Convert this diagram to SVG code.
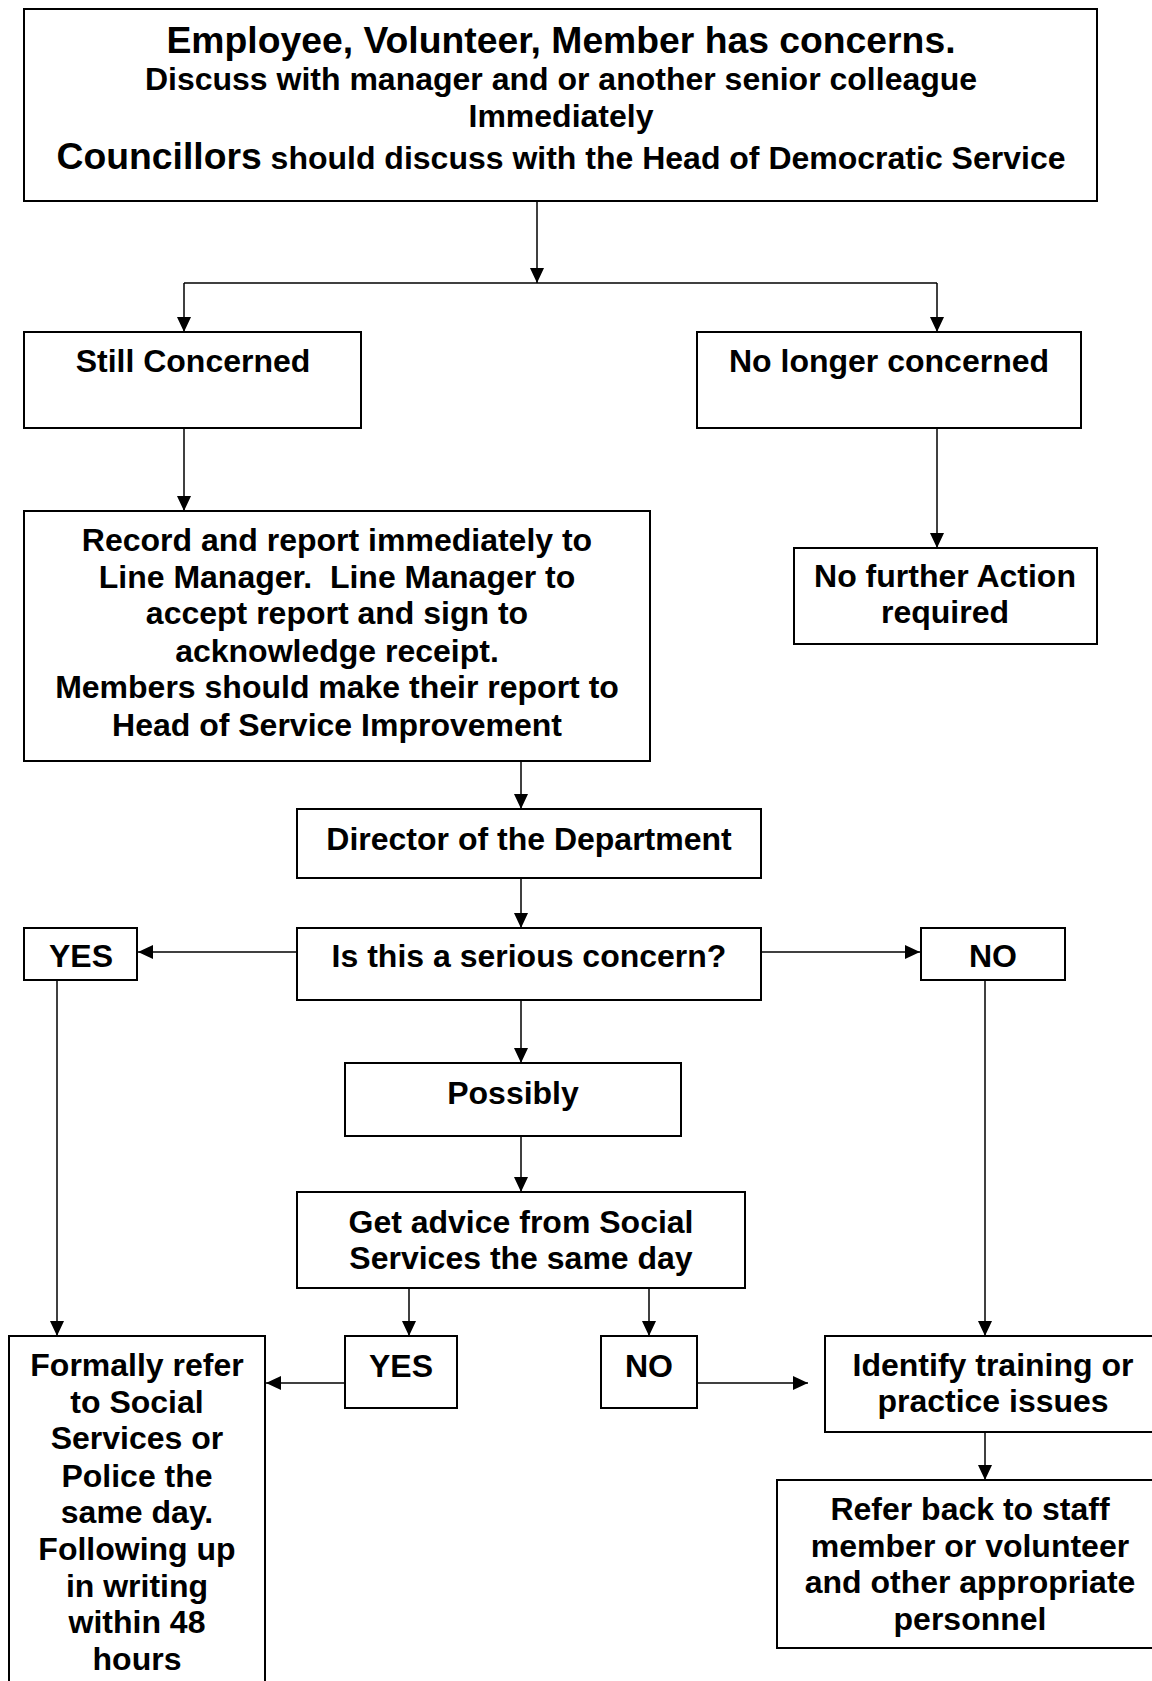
<svg xmlns="http://www.w3.org/2000/svg" width="1152" height="1681" viewBox="0 0 1152 1681">
<style>
.box{fill:#fff;stroke:#000;stroke-width:2}
.t{font-family:"Liberation Sans",Arial,sans-serif;font-weight:bold;font-size:32px;fill:#000;text-anchor:middle}
.big{font-size:37.3px}
.c{fill:none;stroke:#000;stroke-width:1.5}
</style>
<defs>
<marker id="arr" markerUnits="userSpaceOnUse" viewBox="0 0 15 14" refX="15" refY="7" markerWidth="15" markerHeight="14" orient="auto">
<path d="M0,0 L15,7 L0,14 z" fill="#000"/>
</marker>
</defs>
<rect width="1152" height="1681" fill="#fff"/>
<g id="connectors">
<path class="c" d="M537,201 V283" marker-end="url(#arr)"/>
<path class="c" d="M184,283 H937"/>
<path class="c" d="M184,283 V332" marker-end="url(#arr)"/>
<path class="c" d="M937,283 V332" marker-end="url(#arr)"/>
<path class="c" d="M184,428 V511" marker-end="url(#arr)"/>
<path class="c" d="M937,428 V548" marker-end="url(#arr)"/>
<path class="c" d="M521,761 V809" marker-end="url(#arr)"/>
<path class="c" d="M521,878 V928" marker-end="url(#arr)"/>
<path class="c" d="M297,952 H138" marker-end="url(#arr)"/>
<path class="c" d="M761,952 H920" marker-end="url(#arr)"/>
<path class="c" d="M521,1000 V1063" marker-end="url(#arr)"/>
<path class="c" d="M521,1136 V1192" marker-end="url(#arr)"/>
<path class="c" d="M409,1288 V1336" marker-end="url(#arr)"/>
<path class="c" d="M649,1288 V1336" marker-end="url(#arr)"/>
<path class="c" d="M57,980 V1336" marker-end="url(#arr)"/>
<path class="c" d="M985,980 V1336" marker-end="url(#arr)"/>
<path class="c" d="M345,1383 H266" marker-end="url(#arr)"/>
<path class="c" d="M697,1383 H808" marker-end="url(#arr)"/>
<path class="c" d="M985,1432 V1480" marker-end="url(#arr)"/>
</g>
<g id="n-start">
<rect class="box" x="24" y="9" width="1073" height="192"/>
<text class="t big" x="561" y="53">Employee, Volunteer, Member has concerns.</text>
<text class="t" x="561" y="90">Discuss with manager and or another senior colleague</text>
<text class="t" x="561" y="127">Immediately</text>
<text class="t" x="561" y="169"><tspan class="big">Councillors</tspan> should discuss with the Head of Democratic Service</text>
</g>
<g id="n-still">
<rect class="box" x="24" y="332" width="337" height="96"/>
<text class="t" x="193" y="372">Still Concerned</text>
</g>
<g id="n-nolonger">
<rect class="box" x="697" y="332" width="384" height="96"/>
<text class="t" x="889" y="372">No longer concerned</text>
</g>
<g id="n-record">
<rect class="box" x="24" y="511" width="626" height="250"/>
<text class="t" x="337" y="551">Record and report immediately to</text>
<text class="t" x="337" y="588">Line Manager.&#160; Line Manager to</text>
<text class="t" x="337" y="624">accept report and sign to</text>
<text class="t" x="337" y="662">acknowledge receipt.</text>
<text class="t" x="337" y="698">Members should make their report to</text>
<text class="t" x="337" y="736">Head of Service Improvement</text>
</g>
<g id="n-nofurther">
<rect class="box" x="794" y="548" width="303" height="96"/>
<text class="t" x="945" y="587">No further Action</text>
<text class="t" x="945" y="623">required</text>
</g>
<g id="n-director">
<rect class="box" x="297" y="809" width="464" height="69"/>
<text class="t" x="529" y="850">Director of the Department</text>
</g>
<g id="n-serious">
<rect class="box" x="297" y="928" width="464" height="72"/>
<text class="t" x="529" y="967">Is this a serious concern?</text>
</g>
<g id="n-yes1">
<rect class="box" x="24" y="928" width="113" height="52"/>
<text class="t" x="81" y="967">YES</text>
</g>
<g id="n-no1">
<rect class="box" x="921" y="928" width="144" height="52"/>
<text class="t" x="993" y="967">NO</text>
</g>
<g id="n-possibly">
<rect class="box" x="345" y="1063" width="336" height="73"/>
<text class="t" x="513" y="1104">Possibly</text>
</g>
<g id="n-advice">
<rect class="box" x="297" y="1192" width="448" height="96"/>
<text class="t" x="521" y="1233">Get advice from Social</text>
<text class="t" x="521" y="1269">Services the same day</text>
</g>
<g id="n-yes2">
<rect class="box" x="345" y="1336" width="112" height="72"/>
<text class="t" x="401" y="1377">YES</text>
</g>
<g id="n-no2">
<rect class="box" x="601" y="1336" width="96" height="72"/>
<text class="t" x="649" y="1377">NO</text>
</g>
<g id="n-formally">
<rect class="box" x="9" y="1336" width="256" height="360"/>
<text class="t" x="137" y="1376">Formally refer</text>
<text class="t" x="137" y="1413">to Social</text>
<text class="t" x="137" y="1449">Services or</text>
<text class="t" x="137" y="1487">Police the</text>
<text class="t" x="137" y="1523">same day.</text>
<text class="t" x="137" y="1560">Following up</text>
<text class="t" x="137" y="1597">in writing</text>
<text class="t" x="137" y="1633">within 48</text>
<text class="t" x="137" y="1670">hours</text>
</g>
<g id="n-identify">
<rect class="box" x="825" y="1336" width="340" height="96"/>
<text class="t" x="993" y="1376">Identify training or</text>
<text class="t" x="993" y="1412">practice issues</text>
</g>
<g id="n-refer">
<rect class="box" x="777" y="1480" width="390" height="168"/>
<text class="t" x="970" y="1520">Refer back to staff</text>
<text class="t" x="970" y="1557">member or volunteer</text>
<text class="t" x="970" y="1593">and other appropriate</text>
<text class="t" x="970" y="1630">personnel</text>
</g>
</svg>
